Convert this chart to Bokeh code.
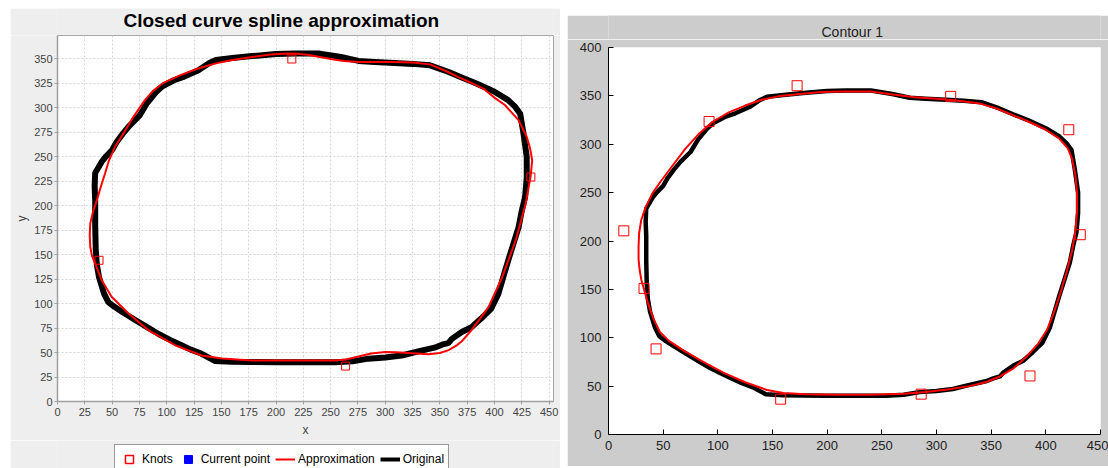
from bokeh.plotting import figure
from bokeh.models import (Legend, LegendItem, FixedTicker, Range1d, Spacer, Label)
from bokeh.layouts import row, column
from bokeh.embed import file_html
from bokeh.resources import INLINE

# ---------------- data ----------------
# Original contour (same contour in both panels)
orig_x = [217, 200, 178, 160, 145, 139, 129, 116, 106, 96, 90, 82, 75, 66, 60, 54, 50, 44, 40.5,
          34.5, 34, 34.5, 34.5, 35, 36, 38, 42.5, 46.5, 52.5, 60, 71.5, 82, 92.5, 103, 113.5, 122,
          131.5, 144, 160, 178, 200, 230, 254, 270, 284.5, 300, 315, 333, 345, 352, 358, 361, 370,
          379, 388, 397, 403.5, 408, 412.5, 417, 422, 425, 428, 429.5, 429.5, 428, 426.5, 423.5,
          419, 412.5, 400, 383.5, 370, 357.5, 341, 325, 308.5, 290, 275.5, 259.5, 240, 217]
orig_y = [355.5, 355, 353, 351, 349, 346, 338.5, 332, 328, 322, 316, 305, 292, 282, 274, 265, 257,
          250, 245, 233.5, 220, 205, 180, 155, 140, 127, 110.5, 101.5, 96.5, 91, 83, 76, 69, 63,
          57.5, 53, 49, 41.5, 40.5, 40.3, 40, 40, 40, 41, 43.8, 45, 47, 52, 55, 58, 60, 64, 71, 76,
          85, 95, 110, 127, 144, 160, 178, 195, 209, 229, 250, 262, 274, 294, 301, 308, 316.5, 325,
          331, 337, 343.5, 345, 346, 347, 348, 352, 355.5, 355.5]

# Left panel: approximation and knots
approx_l_x = [210, 195, 178, 160, 145, 128, 112.5, 96, 87, 80, 69.5, 62, 52.5, 47, 43.5, 39.5, 36,
              32.5, 30, 29.5, 30, 31.5, 34.5, 40.5, 49.5, 65, 83, 107.5, 132, 150.5, 178, 220, 254,
              264, 275.5, 287, 300, 310, 321, 339.5, 350, 358, 365, 370, 379, 394.5, 407, 419.5,
              428.5, 433, 434.5, 432.5, 429.5, 422, 409.5, 400.5, 390, 378, 367, 355, 341, 325,
              308.5, 292, 275.5, 262, 253, 240, 230, 220, 210]
approx_l_y = [355.5, 354.5, 352, 349, 345.5, 340, 333.5, 325, 317, 308, 291, 277, 260, 246, 233,
              219, 205.5, 194, 182, 170, 158, 149, 141, 124, 107, 90, 73, 57.5, 47, 44, 42, 42, 42,
              43, 46, 49, 50.5, 50.3, 49.5, 48.2, 49.5, 52.5, 57, 61.5, 73, 96.5, 127, 165, 202,
              229.5, 246.5, 259, 270.5, 287.5, 303, 310, 319.5, 326, 331.5, 338, 344.5, 346.5, 347,
              347, 347, 348, 349.5, 352, 354, 355.3, 355.5]
knots_l_x = [214.5, 38, 263.7, 433.3]
knots_l_y = [350, 144.3, 36.2, 229.4]

# Right panel: approximation and knots
approx_r_x = [215, 195, 175, 155, 140, 125, 110, 95, 82, 70, 58, 48, 40, 34, 30, 28, 27.5, 27.5,
              28.5, 30, 32.5, 36, 41, 47, 55, 67, 85, 105, 125, 145, 160, 180, 210, 240, 270, 290,
              310, 330, 345, 358, 370, 382, 393, 401, 407, 413, 419, 424, 427, 428.5, 428.5, 427,
              424, 420, 412, 400, 385, 370, 355, 340, 320, 300, 280, 260, 240, 215]
approx_r_y = [354.5, 354, 352, 349.5, 346, 340, 333, 323, 310, 295, 277, 262, 249, 235, 222, 208,
              194, 181, 170, 160, 150, 136, 120, 106, 97, 88, 76, 64, 54, 46, 43, 41.5, 41, 41, 42,
              44, 46.5, 50, 54, 60, 68, 80, 94, 108, 125, 145, 168, 190, 210, 230, 250, 268, 285,
              296, 306, 315, 323, 330, 337, 342, 345, 347, 348.5, 351.5, 354.5, 354.5]
knots_r_x = [14, 32.5, 43.5, 157.5, 286, 385.5, 431.5, 421, 313, 172.5, 92]
knots_r_y = [210.5, 151, 88.5, 36.5, 41.7, 60.5, 206.5, 315, 349.5, 360.5, 323.5]

legend_labels = ["Knots", "Current point", "Approximation", "Original"]
title_left = "Closed curve spline approximation"
title_right = "Contour 1"

left_xticks = list(range(0, 451, 25))
left_yticks = list(range(0, 351, 25))
right_xticks = list(range(0, 451, 50))
right_yticks = list(range(0, 401, 50))

FONT = "Liberation Sans"
LGRAY = "#eeeeee"
RGRAY = "#cccccc"


def strip(width, height, fill, x0, x1):
    """A bare figure used as a gray band (title / legend area).
    Its frame is aligned with the plot frame below/above it; x range = page pixels."""
    s = figure(width=width, height=height, output_backend="svg", toolbar_location=None,
               x_range=Range1d(x0, x1), y_range=Range1d(0, height),
               x_axis_location=None, y_axis_location=None,
               min_border_left=0, min_border_right=0, min_border_top=0, min_border_bottom=0,
               background_fill_color=fill, border_fill_color=fill,
               outline_line_color=None, title=None)
    s.xgrid.visible = False
    s.ygrid.visible = False
    return s


# ---------------- left panel ----------------
tl = strip(550, 27, LGRAY, 57, 553)
tl.add_layout(Label(x=123, y=15.5, text=title_left, text_font=FONT, text_font_size="19px",
                    text_font_style="bold", text_color="black", text_align="left",
                    text_baseline="middle"))

pl = figure(width=550, height=405, output_backend="svg", toolbar_location=None,
            x_range=Range1d(0, 454), y_range=Range1d(0, 374),
            min_border_left=47, min_border_right=7, min_border_top=0, min_border_bottom=39,
            background_fill_color="white", border_fill_color=LGRAY,
            outline_line_color="#a8a8a8", outline_line_width=1, title=None)

for ax in (pl.xaxis[0], pl.yaxis[0]):
    ax.axis_line_color = "#a0a0a0"
    ax.axis_line_width = 1.5
    ax.major_tick_line_color = "#a0a0a0"
    ax.major_tick_out = 3
    ax.major_tick_in = 0
    ax.minor_tick_line_color = None
    ax.major_label_text_font = FONT
    ax.major_label_text_font_size = "11px"
    ax.major_label_text_color = "#444444"
    ax.major_label_standoff = 3
    ax.axis_label_text_font = FONT
    ax.axis_label_text_font_size = "12px"
    ax.axis_label_text_font_style = "normal"
    ax.axis_label_text_color = "#444444"
    if hasattr(ax, "background_fill_color"):
        ax.background_fill_color = LGRAY
pl.yaxis.major_label_standoff = 2
pl.xaxis.ticker = FixedTicker(ticks=left_xticks)
pl.yaxis.ticker = FixedTicker(ticks=left_yticks)
pl.xaxis.axis_label = "x"
pl.yaxis.axis_label = "y"
pl.xaxis.axis_label_standoff = 4
pl.yaxis.axis_label_standoff = 2
pl.xgrid.ticker = FixedTicker(ticks=left_xticks)
pl.ygrid.ticker = FixedTicker(ticks=left_yticks)
for g in (pl.xgrid[0], pl.ygrid[0]):
    g.grid_line_color = "#d4d4d4"
    g.grid_line_dash = "2 2"
    g.grid_line_width = 1

pl.line(orig_x, orig_y, line_color="black", line_width=6, line_join="round")
pl.line(approx_l_x, approx_l_y, line_color="#ff0000", line_width=2)
pl.scatter(knots_l_x, knots_l_y, marker="square", size=8, fill_color=None,
           line_color="#ff0000", line_width=1)

# legend band below the plot (legend proxies use the same data, outside the band's range)
lg = strip(550, 28, LGRAY, -600, -50)
lk = lg.scatter(knots_l_x, knots_l_y, marker="square", size=8, fill_color=None,
                line_color="#ff0000", line_width=1.5)
lc = lg.scatter(knots_l_x[:1], knots_l_y[:1], marker="square", size=8, fill_color="#0000ff",
                line_color="#0000ff")
la = lg.line(approx_l_x, approx_l_y, line_color="#ff0000", line_width=2)
lo = lg.line(orig_x, orig_y, line_color="black", line_width=4)
legend = Legend(items=[
    LegendItem(label=legend_labels[0], renderers=[lk]),
    LegendItem(label=legend_labels[1], renderers=[lc]),
    LegendItem(label=legend_labels[2], renderers=[la]),
    LegendItem(label=legend_labels[3], renderers=[lo]),
], orientation="horizontal", location=(57, -6),
    label_text_font=FONT, label_text_font_size="12px", label_text_color="black",
    glyph_width=20, glyph_height=20, label_height=20, label_standoff=3, spacing=5,
    padding=4, margin=0, border_line_color="#333333", border_line_width=1,
    background_fill_color="white", background_fill_alpha=1.0)
lg.add_layout(legend)

# ---------------- right panel ----------------
tr = strip(541, 24, RGRAY, 608, 1100)
tr.add_layout(Label(x=821, y=7.8, text=title_right, text_font=FONT, text_font_size="14px",
                    text_color="#222222", text_align="left", text_baseline="middle"))

pr = figure(width=541, height=427, output_backend="svg", toolbar_location=None,
            x_range=Range1d(0, 450), y_range=Range1d(0, 400),
            min_border_left=41, min_border_right=8, min_border_top=8, min_border_bottom=32,
            background_fill_color="white", border_fill_color=RGRAY,
            outline_line_color=None, title=None)
for ax in (pr.xaxis[0], pr.yaxis[0]):
    ax.axis_line_color = "black"
    ax.axis_line_width = 1
    ax.major_tick_line_color = "black"
    ax.major_tick_in = 5
    ax.major_tick_out = 0
    ax.minor_tick_line_color = None
    ax.major_label_text_font = FONT
    ax.major_label_text_font_size = "13px"
    ax.major_label_text_color = "#222222"
    if hasattr(ax, "background_fill_color"):
        ax.background_fill_color = RGRAY
pr.xaxis.major_label_standoff = 6
pr.yaxis.major_label_standoff = 7
pr.xaxis.ticker = FixedTicker(ticks=right_xticks)
pr.yaxis.ticker = FixedTicker(ticks=right_yticks)
pr.xgrid.visible = False
pr.ygrid.visible = False

pr.line(orig_x, orig_y, line_color="black", line_width=4.5, line_join="round")
pr.line(approx_r_x, approx_r_y, line_color="#ff0000", line_width=2)
pr.scatter(knots_r_x, knots_r_y, marker="square", size=10, fill_color=None,
           line_color="#ff0000", line_width=1)

layout = row(Spacer(width=10, height=468),
             column(Spacer(width=550, height=8), tl, pl, lg),
             Spacer(width=7, height=468),
             column(Spacer(width=541, height=15), tr, pr))

with open("out.html", "w") as f:
    f.write(file_html(layout, INLINE))
